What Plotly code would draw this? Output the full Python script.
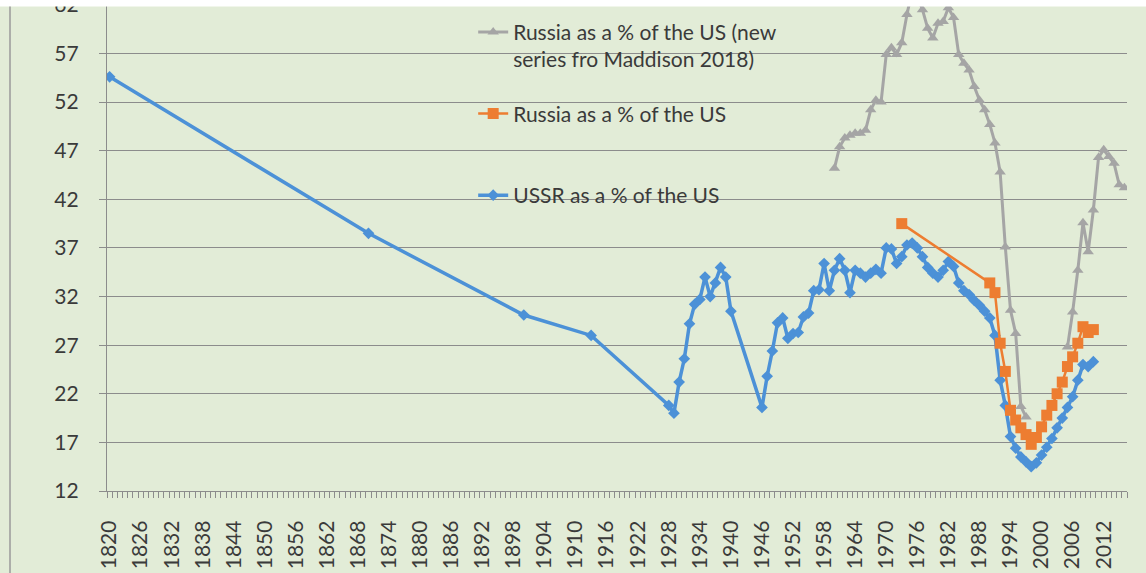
import plotly.graph_objects as go

# ---------------- data ----------------
ussr_years = [1820, 1870, 1900, 1913,
              1928, 1929, 1930, 1931, 1932, 1933, 1934, 1935, 1936, 1937, 1938, 1939, 1940,
              1946, 1947, 1948, 1949, 1950, 1951, 1952, 1953, 1954, 1955, 1956, 1957, 1958, 1959,
              1960, 1961, 1962, 1963, 1964, 1965, 1966, 1967, 1968, 1969,
              1970, 1971, 1972, 1973, 1974, 1975, 1976, 1977, 1978, 1979,
              1980, 1981, 1982, 1983, 1984, 1985, 1986, 1987, 1988, 1989,
              1990, 1991, 1992, 1993, 1994, 1995, 1996, 1997, 1998, 1999,
              2000, 2001, 2002, 2003, 2004, 2005, 2006, 2007, 2008, 2009, 2010]
ussr_vals = [54.6, 38.5, 30.1, 28.0,
             20.8, 20.0, 23.2, 25.6, 29.2, 31.2, 31.7, 34.0, 32.0, 33.4, 35.0, 34.0, 30.5,
             20.6, 23.8, 26.4, 29.3, 29.8, 27.7, 28.2, 28.3, 29.9, 30.3, 32.6, 32.7, 35.4, 32.6,
             34.7, 35.9, 34.7, 32.4, 34.7, 34.4, 34.0, 34.4, 34.8, 34.4,
             37.0, 36.9, 35.4, 36.1, 37.3, 37.5, 37.0, 36.1, 35.0, 34.4,
             34.0, 34.7, 35.6, 35.1, 33.4, 32.6, 32.2, 31.6, 31.1, 30.5,
             29.8, 28.0, 23.4, 20.8, 17.6, 16.4, 15.5, 15.0, 14.5, 14.9,
             15.7, 16.5, 17.4, 18.5, 19.5, 20.6, 21.7, 23.4, 25.0, 24.8, 25.3]

russia_years = [1973, 1990, 1991, 1992, 1993, 1994, 1995, 1996, 1997, 1998, 1999,
                2000, 2001, 2002, 2003, 2004, 2005, 2006, 2007, 2008, 2009, 2010]
russia_vals = [39.5, 33.4, 32.4, 27.2, 24.3, 20.3, 19.3, 18.5, 17.8, 16.8, 17.5,
               18.6, 19.8, 20.8, 22.0, 23.2, 24.8, 25.8, 27.2, 28.9, 28.3, 28.6]

mad_years = [1960, 1961, 1962, 1963, 1964, 1965, 1966, 1967, 1968, 1969,
             1970, 1971, 1972, 1973, 1974, 1975, 1976, 1977, 1978, 1979,
             1980, 1981, 1982, 1983, 1984, 1985, 1986, 1987, 1988, 1989,
             1990, 1991, 1992, 1993, 1994, 1995, 1996, 1997, 1998, 1999,
             2000, 2001, 2002, 2003, 2004, 2005, 2006, 2007, 2008, 2009,
             2010, 2011, 2012, 2013, 2014, 2015, 2016]
mad_vals = [45.2, 47.4, 48.3, 48.6, 48.8, 48.8, 49.1, 51.2, 52.2, 52.0,
            56.9, 57.6, 56.9, 58.1, 61.0, 63.5, 63.0, 61.5, 59.6, 58.6,
            60.1, 60.3, 61.7, 60.7, 56.9, 56.0, 55.3, 53.6, 52.2, 51.2,
            49.7, 47.8, 44.8, 37.1, 30.6, 28.2, 20.7, 19.6, None, None,
            None, None, None, None, None, 26.8, 30.4, 34.7, 39.6, 36.6,
            40.9, 46.3, 47.1, 46.4, 45.7, 43.5, 43.2]

names = ["USSR as a % of the US",
         "Russia as a % of the US<br>&nbsp;",
         "Russia as a % of the US (new<br>series fro Maddison 2018)"]

# ---------------- styles ----------------
BG = "#e2ecd7"
GRID = "#8c8c8c"
TXT = "#3a3a3a"
FONT = "Lato"
FS = 21

fig = go.Figure()
fig.add_trace(go.Scatter(x=ussr_years, y=ussr_vals, name=names[0], mode="lines+markers",
                         legendgroup="a", legendrank=3,
                         line=dict(color="#4c91d7", width=3.5),
                         marker=dict(symbol="diamond", size=9, color="#4c91d7")))
fig.add_trace(go.Scatter(x=russia_years, y=russia_vals, name=names[1], mode="lines+markers",
                         legendgroup="b", legendrank=2,
                         line=dict(color="#ed7d31", width=2.5),
                         marker=dict(symbol="square", size=11, color="#ed7d31")))
fig.add_trace(go.Scatter(x=mad_years, y=mad_vals, name=names[2], mode="lines+markers",
                         legendgroup="c", legendrank=1, connectgaps=False,
                         line=dict(color="#a5a5a5", width=3),
                         marker=dict(symbol="triangle-up", size=10, color="#a5a5a5")))

fig.update_layout(
    width=1146, height=573,
    margin=dict(l=107, r=19, t=0, b=82),
    paper_bgcolor=BG, plot_bgcolor=BG,
    font=dict(family=FONT, size=FS, color=TXT),
    showlegend=True,
    legend=dict(x=0.359, y=0.976, xanchor="left", yanchor="top",
                bgcolor="rgba(0,0,0,0)", traceorder="grouped",
                tracegroupgap=24, valign="top",
                font=dict(family=FONT, size=FS, color=TXT)),
    xaxis=dict(range=[1819.5, 2016.5], tickmode="linear", tick0=1820, dtick=6,
               tickangle=-90, ticks="", showgrid=False, zeroline=False,
               showline=True, linecolor=GRID, linewidth=1.3, automargin=False,
               ticklabelstandoff=20,
               tickfont=dict(family=FONT, size=FS, color=TXT),
               minor=dict(ticks="outside", tick0=1819.5, dtick=1, ticklen=6,
                          tickcolor=GRID, tickwidth=1, showgrid=False)),
    yaxis=dict(range=[12, 62.5], tickmode="linear", tick0=12, dtick=5,
               ticks="outside", ticklen=7, tickcolor=GRID, tickwidth=1.3,
               showgrid=True, gridcolor=GRID, gridwidth=1.3, zeroline=False,
               showline=True, linecolor=GRID, linewidth=1.3, automargin=False,
               ticklabelstandoff=16, ticklabeloverflow="allow",
               tickfont=dict(family=FONT, size=FS, color=TXT)),
    shapes=[
        dict(type="rect", xref="paper", yref="paper", x0=-0.2, x1=1.2,
             y0=1 - 6.5 / 491, y1=1.1, fillcolor="white", line=dict(width=0), layer="above"),
        dict(type="line", xref="paper", yref="paper", x0=-97 / 1020, x1=-97 / 1020,
             y0=-0.2, y1=1 - 6.5 / 491, line=dict(color="#9a9a9a", width=1.5), layer="above"),
    ],
)

fig.write_html("out.html", config={"displayModeBar": False},
               post_script="document.body.style.margin='0px';document.body.style.overflow='hidden';")
